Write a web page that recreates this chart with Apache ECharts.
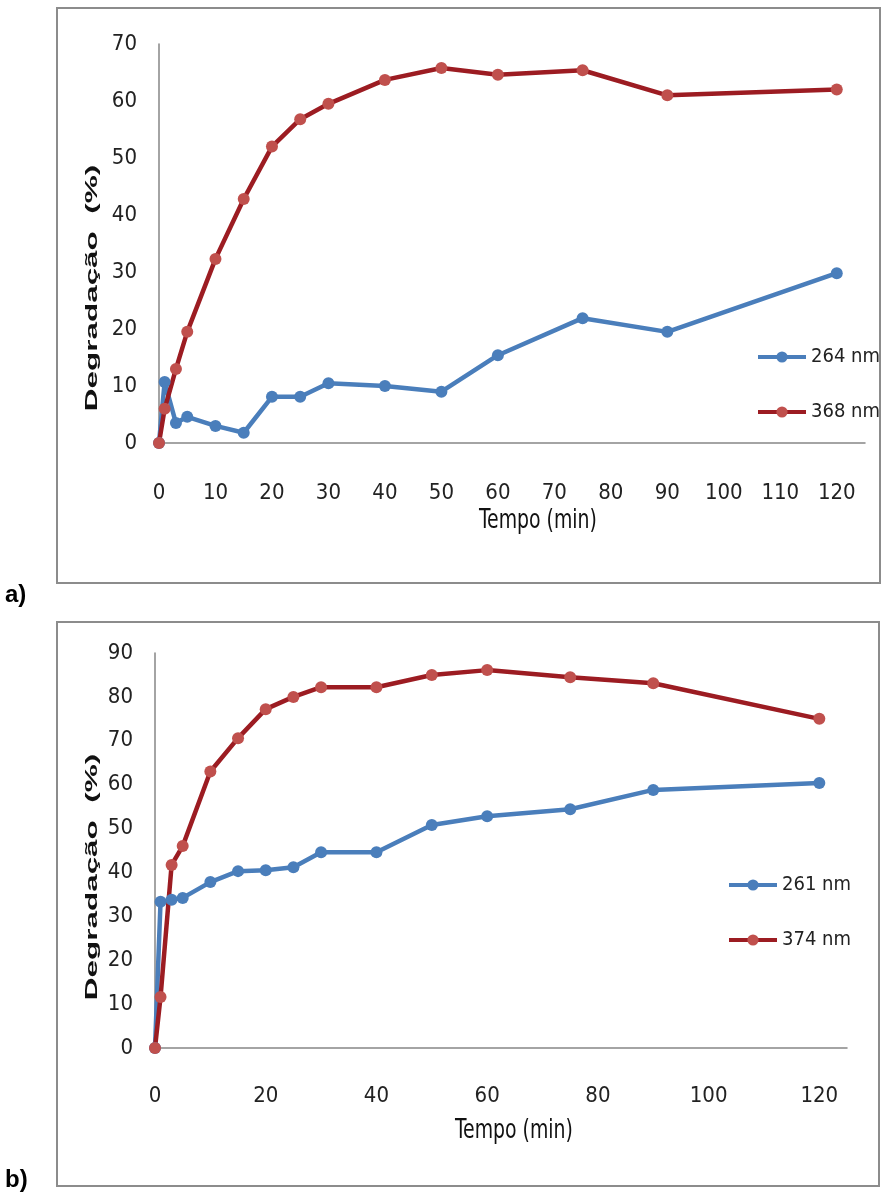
<!DOCTYPE html>
<html>
<head>
<meta charset="utf-8">
<script src="https://cdn.jsdelivr.net/npm/echarts@6/dist/echarts.min.js"></script>
<style>
html,body{margin:0;padding:0;background:#fff;}
#chart{width:885px;height:1194px;}
</style>
</head>
<body>
<div id="chart"></div>
<script>
// ---- Data ----
var timesA = [0, 1, 3, 5, 10, 15, 20, 25, 30, 40, 50, 60, 75, 90, 120];
var seriesA264 = [0, 10.7, 3.5, 4.6, 3.0, 1.8, 8.1, 8.1, 10.5, 10.0, 9.0, 15.4, 21.9, 19.5, 29.8];
var seriesA368 = [0, 6.0, 13.0, 19.5, 32.3, 42.8, 52.0, 56.8, 59.5, 63.7, 65.8, 64.6, 65.4, 61.0, 62.0];

var timesB = [0, 1, 3, 5, 10, 15, 20, 25, 30, 40, 50, 60, 75, 90, 120];
var seriesB261 = [0, 33.3, 33.8, 34.2, 37.8, 40.3, 40.5, 41.2, 44.6, 44.6, 50.8, 52.8, 54.4, 58.8, 60.4];
var seriesB374 = [0, 11.6, 41.7, 46.0, 63.0, 70.6, 77.2, 80.0, 82.2, 82.2, 85.0, 86.1, 84.5, 83.1, 75.0];

var namesA = ['264 nm', '368 nm'];
var namesB = ['261 nm', '374 nm'];
var xTitle = 'Tempo (min)';
var yTitle = 'Degradação  (%)';

function pairs(xs, ys) { return xs.map(function (x, i) { return [x, ys[i]]; }); }

var NARROW = "'Liberation Sans Narrow', 'DejaVu Sans Condensed', 'Liberation Sans', sans-serif";
var BLUE_LINE = '#4A7EBB', BLUE_MK = '#4A7EBB';
var RED_LINE = '#9C1C22', RED_MK = '#C0504D';

function mkSeries(name, data, xi, lineC, mkC) {
  return {
    name: name, type: 'line', xAxisIndex: xi, yAxisIndex: xi,
    data: data, symbol: 'circle', symbolSize: 12,
    lineStyle: { color: lineC, width: 4.5 },
    itemStyle: { color: mkC, borderColor: mkC, borderWidth: 0 },
    emphasis: { disabled: true }, animation: false
  };
}

var axisLine = { show: true, onZero: false, lineStyle: { color: '#868686', width: 1.5 } };
var tickLabel = { color: '#222', fontFamily: NARROW, fontSize: 22 };

function mkLegend(names, left, top) {
  return {
    data: names, orient: 'vertical', left: left, top: top,
    itemWidth: 48, itemHeight: 14, itemGap: 35,
    lineStyle: { width: 4 },
    textStyle: { color: '#222', fontFamily: NARROW, fontSize: 20 },
    selectedMode: false
  };
}

var chart = echarts.init(document.getElementById('chart'));
chart.setOption({
  backgroundColor: '#fff',
  animation: false,
  grid: [
    { left: 159, top: 44, width: 706, height: 399 },
    { left: 155, top: 653, width: 692, height: 395 }
  ],
  xAxis: [
    { gridIndex: 0, type: 'value', min: 0, max: 125, interval: 10,
      axisLine: axisLine, axisTick: { show: false }, splitLine: { show: false },
      axisLabel: Object.assign({ margin: 39, showMaxLabel: false }, tickLabel) },
    { gridIndex: 1, type: 'value', min: 0, max: 125, interval: 20,
      axisLine: axisLine, axisTick: { show: false }, splitLine: { show: false },
      axisLabel: Object.assign({ margin: 37, showMaxLabel: false }, tickLabel) }
  ],
  yAxis: [
    { gridIndex: 0, type: 'value', min: 0, max: 70, interval: 10,
      axisLine: axisLine, axisTick: { show: false }, splitLine: { show: false },
      axisLabel: Object.assign({ margin: 22 }, tickLabel) },
    { gridIndex: 1, type: 'value', min: 0, max: 90, interval: 10,
      axisLine: axisLine, axisTick: { show: false }, splitLine: { show: false },
      axisLabel: Object.assign({ margin: 22 }, tickLabel) }
  ],
  legend: [ mkLegend(namesA, 751, 342), mkLegend(namesB, 722, 870) ],
  series: [
    mkSeries(namesA[0], pairs(timesA, seriesA264), 0, BLUE_LINE, BLUE_MK),
    mkSeries(namesA[1], pairs(timesA, seriesA368), 0, RED_LINE, RED_MK),
    mkSeries(namesB[0], pairs(timesB, seriesB261), 1, BLUE_LINE, BLUE_MK),
    mkSeries(namesB[1], pairs(timesB, seriesB374), 1, RED_LINE, RED_MK)
  ],
  graphic: [
    { type: 'rect', shape: { x: 57, y: 8, width: 823, height: 575 }, style: { fill: 'none', stroke: '#8c8c8c', lineWidth: 2 }, silent: true },
    { type: 'rect', shape: { x: 57, y: 622, width: 822, height: 564 }, style: { fill: 'none', stroke: '#8c8c8c', lineWidth: 2 }, silent: true },
    { type: 'text', x: 5, y: 595, style: { text: 'a)', font: "bold 24px 'Liberation Sans', Arial, sans-serif", fill: '#000', verticalAlign: 'middle' } },
    { type: 'text', x: 5, y: 1180, style: { text: 'b)', font: "bold 24px 'Liberation Sans', Arial, sans-serif", fill: '#000', verticalAlign: 'middle' } },
    { type: 'text', x: 538, y: 521, scaleY: 1.3, style: { text: xTitle, font: "21px " + NARROW, fill: '#111', align: 'center', verticalAlign: 'middle' } },
    { type: 'text', x: 514, y: 1131, scaleY: 1.3, style: { text: xTitle, font: "21px " + NARROW, fill: '#111', align: 'center', verticalAlign: 'middle' } },
    { type: 'text', x: 92, y: 288, rotation: Math.PI / 2, scaleX: 1.85, style: { text: yTitle, font: "bold 17px 'Liberation Sans', Arial, sans-serif", fill: '#111', align: 'center', verticalAlign: 'middle' } },
    { type: 'text', x: 92, y: 877, rotation: Math.PI / 2, scaleX: 1.85, style: { text: yTitle, font: "bold 17px 'Liberation Sans', Arial, sans-serif", fill: '#111', align: 'center', verticalAlign: 'middle' } }
  ]
});
</script>
</body>
</html>
